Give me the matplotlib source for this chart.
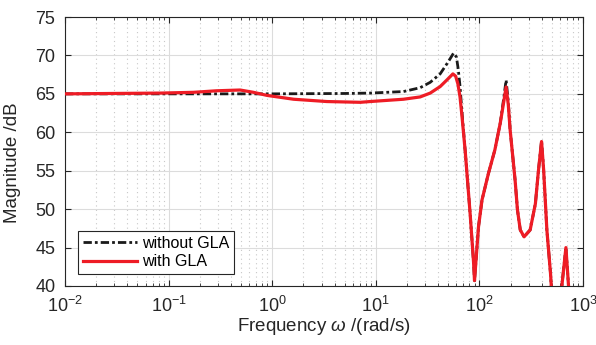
import matplotlib
matplotlib.use('Agg')
import matplotlib.pyplot as plt
from matplotlib.ticker import LogLocator, NullFormatter

plt.rcParams['font.family'] = ['Liberation Sans', 'DejaVu Sans']
plt.rcParams['mathtext.fontset'] = 'custom'
plt.rcParams['mathtext.rm'] = 'Liberation Sans'
plt.rcParams['mathtext.it'] = 'Liberation Sans:italic'

# frequency response (rad/s, dB)
w_no = [0.01, 0.1, 1, 5, 8.8, 18.5, 26.8, 33.5, 41.8, 50.2, 56.3, 60, 62.5,
        65, 68, 73, 81.5, 87.7, 89.7, 98, 106, 122, 141, 159, 172, 181,
        190, 198, 221, 233, 248, 270, 309, 347, 372, 398, 417, 448, 486, 494,
        530, 625, 684, 725, 760]
mag_no = [65.0, 65.0, 65.0, 65.05, 65.1, 65.3, 65.8, 66.5, 67.6, 69.2, 70.3,
          69.8, 68.2, 66.0, 62.5, 57.5, 49.3, 43.2, 40.7, 47.7, 51.2, 54.6,
          57.7, 61.2, 64.5, 66.8, 64.0, 60.3, 53.8, 49.9, 47.3, 46.4, 47.3,
          50.7, 55.1, 58.9, 55.1, 47.3, 41.6, 40.0, 36.0, 40.0, 45.0, 40.0, 35.0]

w_gla = [0.01, 0.083, 0.174, 0.29, 0.49, 0.66, 0.89, 1.61, 3.37, 7.1, 8.8,
         18.5, 26.8, 33.5, 41.8, 48.5, 55.5, 59, 62, 65, 68, 73, 81.5, 87.7,
         89.7, 98, 106, 122, 141, 159, 172, 181, 190, 198, 221, 233, 248, 270,
         309, 347, 372, 398, 417, 448, 486, 494, 530, 625, 684, 725, 760]
mag_gla = [65.0, 65.1, 65.2, 65.4, 65.5, 65.2, 64.8, 64.3, 64.0, 63.9, 64.0,
           64.3, 64.6, 65.1, 65.95, 66.8, 67.6, 67.3, 66.3, 64.6, 62.0, 57.5,
           49.3, 43.2, 40.7, 47.7, 51.2, 54.6, 57.7, 61.2, 64.0, 65.9, 63.6,
           60.3, 53.8, 49.9, 47.3, 46.4, 47.3, 50.7, 55.1, 58.8, 55.1, 47.3,
           41.6, 40.0, 36.0, 40.0, 45.0, 40.0, 35.0]

yticks = [40, 45, 50, 55, 60, 65, 70, 75]

fig = plt.figure(figsize=(5.96, 3.45), dpi=100)
ax = fig.add_axes([65 / 596, 1 - 286 / 345, (583 - 65) / 596, (286 - 17) / 345])

ax.semilogx(w_no, mag_no, color='#1a1a1a', lw=2.0, linestyle=(0, (3, 1.1, 1, 1.1)),
            label='without GLA', zorder=3)
ax.semilogx(w_gla, mag_gla, color='#ee1c25', lw=2.3, label='with GLA', zorder=4)

ax.set_xlim(1e-2, 1e3)
ax.set_ylim(40, 75)
ax.set_yticks(yticks)
ax.xaxis.set_major_locator(LogLocator(base=10, numticks=10))
ax.xaxis.set_minor_locator(LogLocator(base=10, subs=range(2, 10), numticks=20))
ax.xaxis.set_minor_formatter(NullFormatter())

ax.grid(True, which='major', color='#dcdcdc', lw=0.8, linestyle='-')
ax.grid(True, which='minor', axis='x', color='#c8c8c8', lw=0.8, linestyle=(0, (1, 3)))
ax.set_axisbelow(True)

ax.tick_params(which='both', direction='in', top=True, right=True,
               labelsize=13, colors='#262626')
ax.tick_params(which='major', length=4)
ax.tick_params(which='minor', length=2.5)
ax.tick_params(axis='x', pad=7)
ax.tick_params(axis='y', pad=7)
for s in ax.spines.values():
    s.set_color('#262626')
    s.set_linewidth(0.8)

ax.set_xlabel(r'Frequency $\mathit{\omega}$ /(rad/s)', fontsize=13.5, color='#262626', labelpad=0)
ax.set_ylabel('Magnitude /dB', fontsize=13.5, color='#262626')
ax.yaxis.set_label_coords(-0.085, 0.46)

leg = ax.legend(loc='lower left', fontsize=11.5, frameon=True, fancybox=False,
                edgecolor='#262626', framealpha=1, handlelength=3.4,
                bbox_to_anchor=(0.025, 0.045), borderaxespad=0,
                borderpad=0.3, labelspacing=0.2, handletextpad=0.3)
leg.get_frame().set_linewidth(0.8)

fig.savefig('out.png', dpi=100)
